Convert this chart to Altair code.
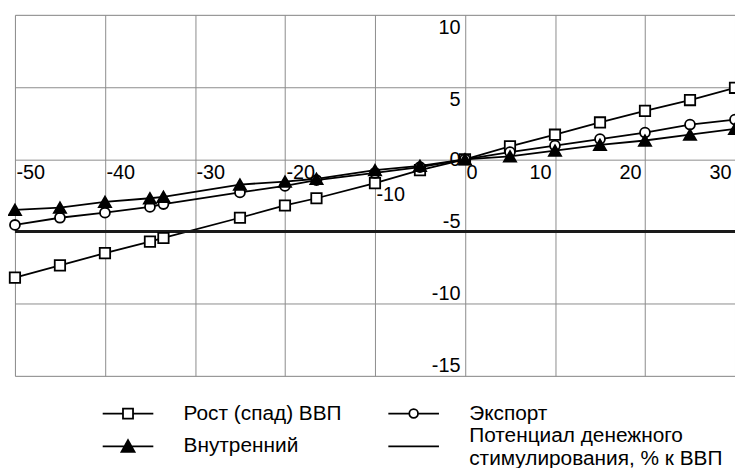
import altair as alt
import pandas as pd

# ---- data ----
x_values = [-50, -45, -40, -35, -33.5, -25, -20, -16.5, -10, -5, 0, 5, 10, 15, 20, 25, 30]
gdp = [-8.2, -7.35, -6.5, -5.7, -5.45, -4.05, -3.2, -2.7, -1.65, -0.75, 0, 0.9, 1.7, 2.55, 3.35, 4.1, 4.95]
export = [-4.55, -4.05, -3.7, -3.3, -3.1, -2.3, -1.85, -1.45, -0.95, -0.55, 0, 0.5, 0.95, 1.4, 1.85, 2.4, 2.75]
domestic = [-3.5, -3.35, -2.95, -2.7, -2.6, -1.75, -1.55, -1.35, -0.75, -0.45, 0, 0.2, 0.6, 1.0, 1.3, 1.7, 2.1]
potential_level = [-5.0]

series_names = [
    "Рост (спад) ВВП",
    "Внутренний",
    "Экспорт",
    "Потенциал денежного стимулирования, % к ВВП",
]
x_ticks = [-50, -40, -30, -20, -10, 0, 10, 20, 30]
y_ticks = [-15, -10, -5, 0, 5, 10]
x_domain = [-50, 30]
y_domain = [-15, 10]

FONT = "Liberation Sans"
W, H = 726, 364

rows = []
for name, vals in [(series_names[0], gdp), (series_names[2], export), (series_names[1], domestic)]:
    for xv, yv in zip(x_values, vals):
        rows.append({"x": xv, "y": yv, "series": name})
df = pd.DataFrame(rows)
pot_df = pd.DataFrame({"y": potential_level})

xs = alt.Scale(domain=x_domain, nice=False, zero=False)
ys = alt.Scale(domain=y_domain, nice=False, zero=False)

# axis positions at the origin (derived from the domains)
x_axis_offset = -H * (0 - y_domain[0]) / (y_domain[1] - y_domain[0])
y_axis_offset = -W * (0 - x_domain[0]) / (x_domain[1] - x_domain[0])

grid_x = alt.Axis(orient="top", grid=True, gridColor="#8c8c8c", gridWidth=1, labels=False,
                  ticks=False, domain=False, title=None, values=x_ticks)
grid_y = alt.Axis(orient="right", grid=True, gridColor="#8c8c8c", gridWidth=1, labels=False,
                  ticks=False, domain=False, title=None, values=y_ticks)

label_x = alt.Axis(
    orient="bottom", offset=x_axis_offset, grid=False, domain=False, ticks=False, title=None,
    values=x_ticks, labelFont=FONT, labelFontSize=20, labelColor="black",
    labelFlush=False, labelOverlap=False, labelBaseline="top",
    labelExpr="'' + datum.value",
    labelAlign={"condition": {"test": "datum.value <= 0", "value": "left"}, "value": "right"},
    labelOffset={"condition": {"test": "datum.value <= 0", "value": 1}, "value": -4},
    labelPadding={"condition": {"test": "datum.value == -10", "value": 26}, "value": 3},
)
label_y = alt.Axis(
    orient="left", offset=y_axis_offset, grid=False, domain=False, ticks=False, title=None,
    values=y_ticks, labelFont=FONT, labelFontSize=20, labelColor="black",
    labelFlush=False, labelOverlap=False, labelPadding=5, labelAlign="right",
    labelExpr="'' + datum.value",
    labelBaseline={"condition": [{"test": "datum.value > 0", "value": "top"},
                                 {"test": "datum.value == 0", "value": "middle"}],
                   "value": "bottom"},
    labelOffset={"condition": {"test": "datum.value > 0", "value": 3}, "value": 0},
)

base = alt.Chart(df)

lines = base.mark_line(color="black", strokeWidth=1.8).encode(
    x=alt.X("x:Q", scale=xs, axis=grid_x),
    y=alt.Y("y:Q", scale=ys, axis=grid_y),
    detail="series:N",
)

potential = alt.Chart(pot_df).mark_rule(color="#1a1a1a", strokeWidth=3).encode(
    y=alt.Y("y:Q", scale=ys, axis=None)
)

def pts(name, shape, fill, size, axes=False):
    return base.transform_filter(alt.datum.series == name).mark_point(
        shape=shape, filled=True, fill=fill, stroke="black", strokeWidth=1.8, size=size, opacity=1
    ).encode(
        x=alt.X("x:Q", scale=xs, axis=label_x if axes else None),
        y=alt.Y("y:Q", scale=ys, axis=label_y if axes else None),
    )

p_gdp = pts(series_names[0], "square", "white", 110, axes=True)
p_exp = pts(series_names[2], "circle", "white", 100)
p_dom = pts(series_names[1], "triangle-up", "black", 150)

# legend symbol paths (22 px per unit)
legend_paths = [
    "M-1.16,0H-0.23M0.23,0H1.16M-0.23,-0.23H0.23V0.23H-0.23Z",
    "M-1.16,0H1.16M0,-0.28L0.3,0.26L-0.3,0.26Z",
    "M-1.16,0H-0.2M0.2,0H1.16M-0.2,0A0.2,0.2,0,1,1,0.2,0A0.2,0.2,0,1,1,-0.2,0Z",
    "M-1.16,0H1.16",
]
legend_fills = ["white", "black", "white", "white"]

leg = alt.Legend(
    title=None, orient="none", legendX=91, legendY=379, columns=2,
    symbolSize=1936, symbolStrokeWidth=1.8, symbolStrokeColor="black", symbolOpacity=1,
    labelFont=FONT, labelFontSize=21, labelColor="black", labelOffset=33,
    columnPadding=42, rowPadding=-12, labelLimit=400,
    labelBaseline={"expr": "indexof(datum.label, 'стимулир') > 0 ? 'bottom' : 'middle'"},
    labelExpr="indexof(datum.label, 'стимулир') > 0 ? ['Потенциал денежного', 'стимулирования, % к ВВП'] : datum.label",
)

legend_layer = base.mark_point(opacity=0, filled=True, strokeWidth=1.8).encode(
    x=alt.X("x:Q", scale=xs, axis=None),
    y=alt.Y("y:Q", scale=ys, axis=None),
    shape=alt.Shape("series:N", scale=alt.Scale(domain=series_names, range=legend_paths), legend=leg),
    fill=alt.Fill("series:N", scale=alt.Scale(domain=series_names, range=legend_fills), legend=leg),
    stroke=alt.Stroke("series:N", scale=alt.Scale(domain=series_names, range=["black"] * 4), legend=leg),
)

chart = alt.layer(lines, potential, p_gdp, p_exp, p_dom, legend_layer).resolve_axis(
    x="independent", y="independent"
).properties(
    width=W, height=H,
    autosize=alt.AutoSizeParams(type="none"),
    padding={"left": 7, "top": 5, "right": 0, "bottom": 95},
).configure_view(stroke=None).configure(background="white")

chart.save("out.html", embed_options={"renderer": "svg", "actions": False})
